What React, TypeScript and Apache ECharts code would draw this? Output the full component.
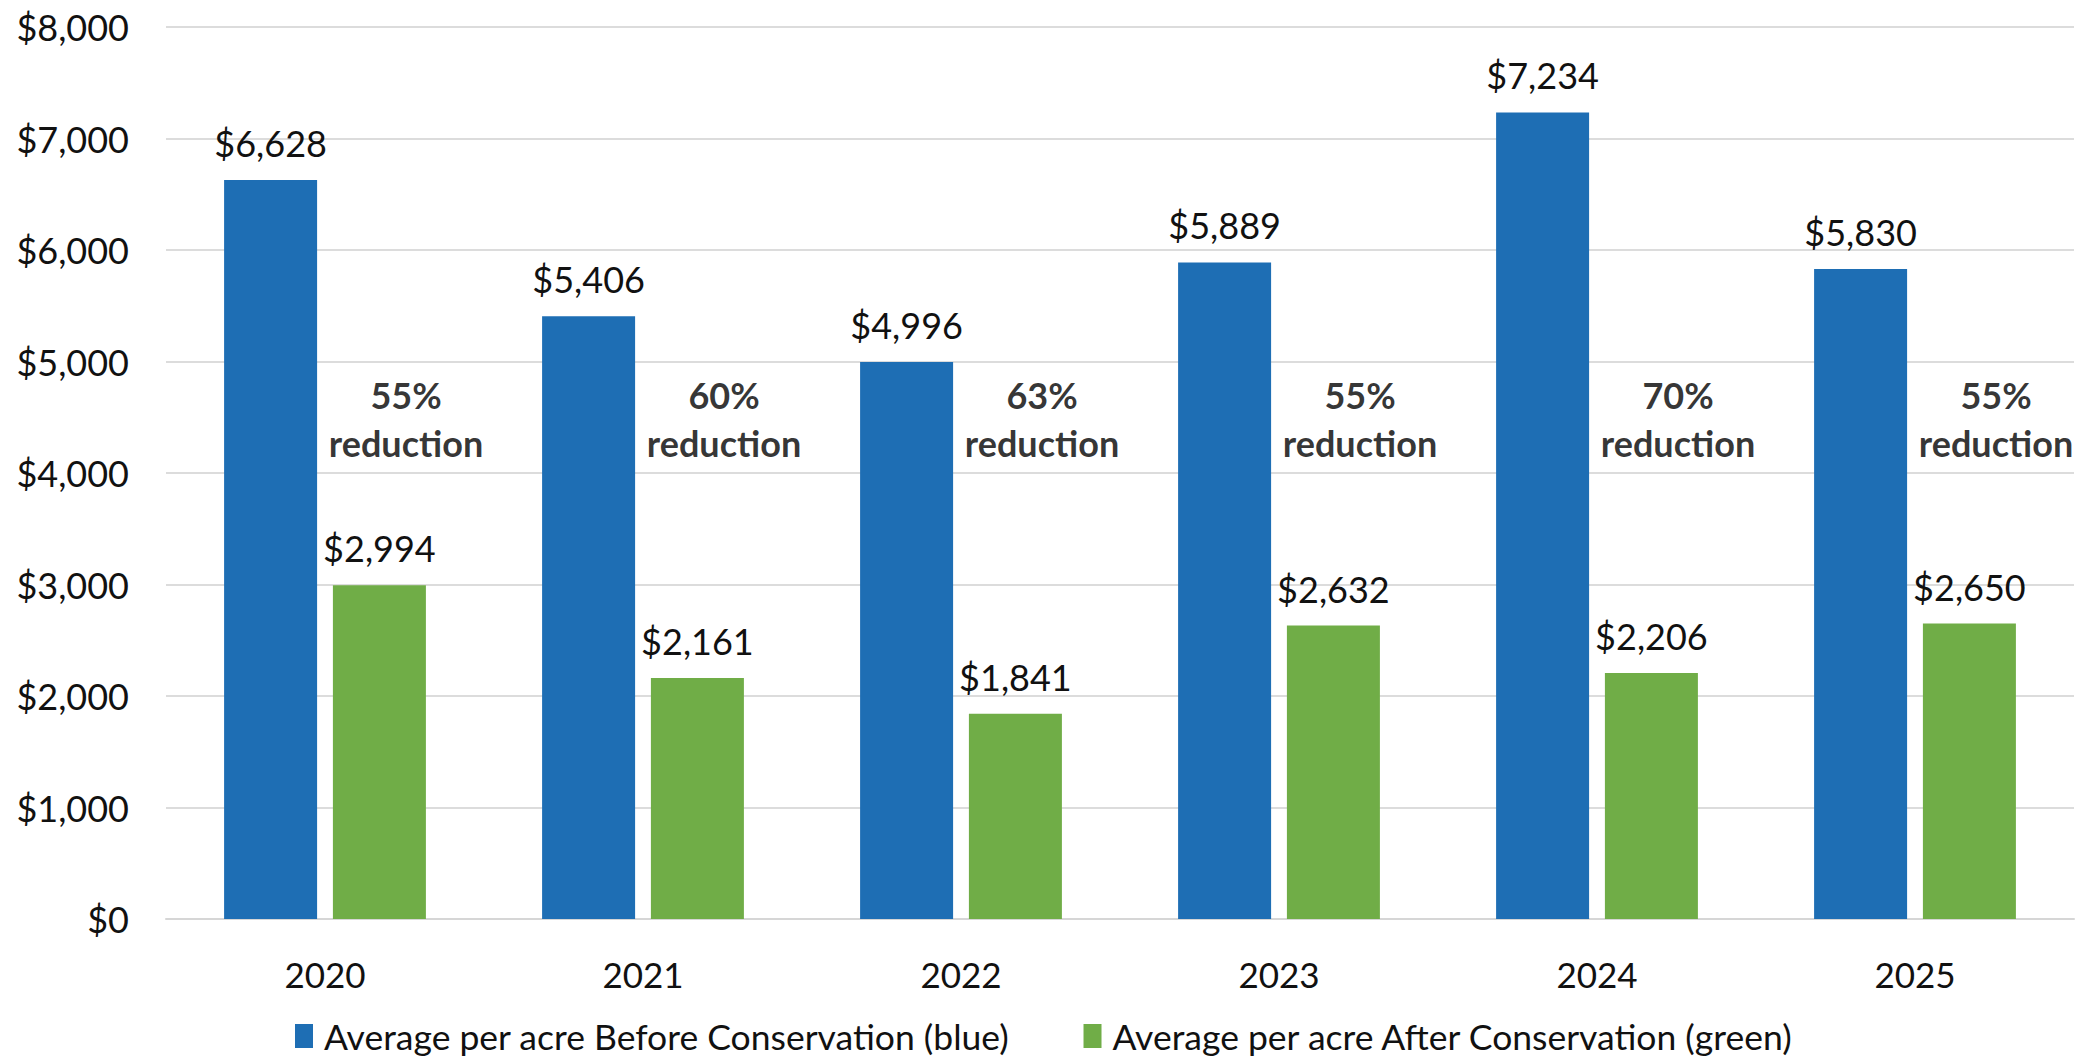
import React, { useEffect, useRef } from "react";
import * as echarts from "echarts";

const years = ["2020", "2021", "2022", "2023", "2024", "2025"];
const beforeValues = [6628, 5406, 4996, 5889, 7234, 5830];
const afterValues = [2994, 2161, 1841, 2632, 2206, 2650];
const reductionPct = [55, 60, 63, 55, 70, 55];
const reductionLabelY = 4480;
const yTicks = [0, 1000, 2000, 3000, 4000, 5000, 6000, 7000, 8000];

const beforeName = "Average per acre Before Conservation (blue)";
const afterName = "Average per acre After Conservation (green)";

const FONT = "Lato, 'Open Sans', sans-serif";
const money = (v: number) => "$" + v.toLocaleString("en-US");

export default function App() {
  const ref = useRef<HTMLDivElement>(null);
  useEffect(() => {
    document.body.style.margin = "0";
    const chart = echarts.init(ref.current!, null, { renderer: "svg" });
    chart.setOption({
      animation: false,
      backgroundColor: "#ffffff",
      textStyle: { fontFamily: FONT },
      grid: { left: 166, right: 12, top: 27, bottom: 139, containLabel: false },
      legend: {
        data: [beforeName, afterName],
        left: 290,
        top: 1013,
        icon: "rect",
        itemWidth: 18,
        itemHeight: 24,
        itemGap: 74,
        textStyle: { fontFamily: FONT, fontSize: 35.5, color: "#111111", padding: [0, 0, 0, 6] },
      },
      xAxis: {
        type: "category",
        data: years,
        axisLine: { show: true, lineStyle: { color: "#d6d6d6", width: 2 } },
        axisTick: { show: false },
        axisLabel: { fontFamily: FONT, fontSize: 35, color: "#111111", margin: 37 },
      },
      yAxis: {
        type: "value",
        min: yTicks[0],
        max: yTicks[yTicks.length - 1],
        interval: 1000,
        axisLine: { show: false },
        axisTick: { show: false },
        splitLine: { lineStyle: { color: "#dcdcdc", width: 2 } },
        axisLabel: {
          fontFamily: FONT,
          fontSize: 36,
          color: "#111111",
          margin: 37,
          formatter: (v: number) => money(v),
        },
      },
      series: [
        {
          name: beforeName,
          type: "bar",
          data: beforeValues,
          barWidth: 93,
          barGap: "17%",
          itemStyle: { color: "#1e6eb4" },
          label: {
            show: true,
            position: "top",
            distance: 19,
            fontFamily: FONT,
            fontSize: 36,
            color: "#111111",
            formatter: (p: any) => money(p.value),
          },
        },
        {
          name: afterName,
          type: "bar",
          data: afterValues,
          barWidth: 93,
          barGap: "17%",
          itemStyle: { color: "#70ad47" },
          label: {
            show: true,
            position: "top",
            distance: 19,
            fontFamily: FONT,
            fontSize: 36,
            color: "#111111",
            formatter: (p: any) => money(p.value),
          },
        },
        {
          name: "reduction",
          type: "scatter",
          data: reductionPct.map((r, i) => [years[i], reductionLabelY, r]),
          symbolSize: 1,
          itemStyle: { color: "rgba(0,0,0,0)" },
          silent: true,
          label: {
            show: true,
            position: "inside",
            offset: [81, 0],
            formatter: (p: any) => `{a|${p.value[2]}%}\n{a|reduction}`,
            rich: {
              a: {
                fontFamily: FONT,
                fontSize: 36,
                fontWeight: "bold",
                color: "#000000",
                lineHeight: 48,
                align: "center",
              },
            },
          },
        },
      ],
    });
    return () => chart.dispose();
  }, []);
  return <div ref={ref} style={{ width: 2086, height: 1058 }} />;
}
